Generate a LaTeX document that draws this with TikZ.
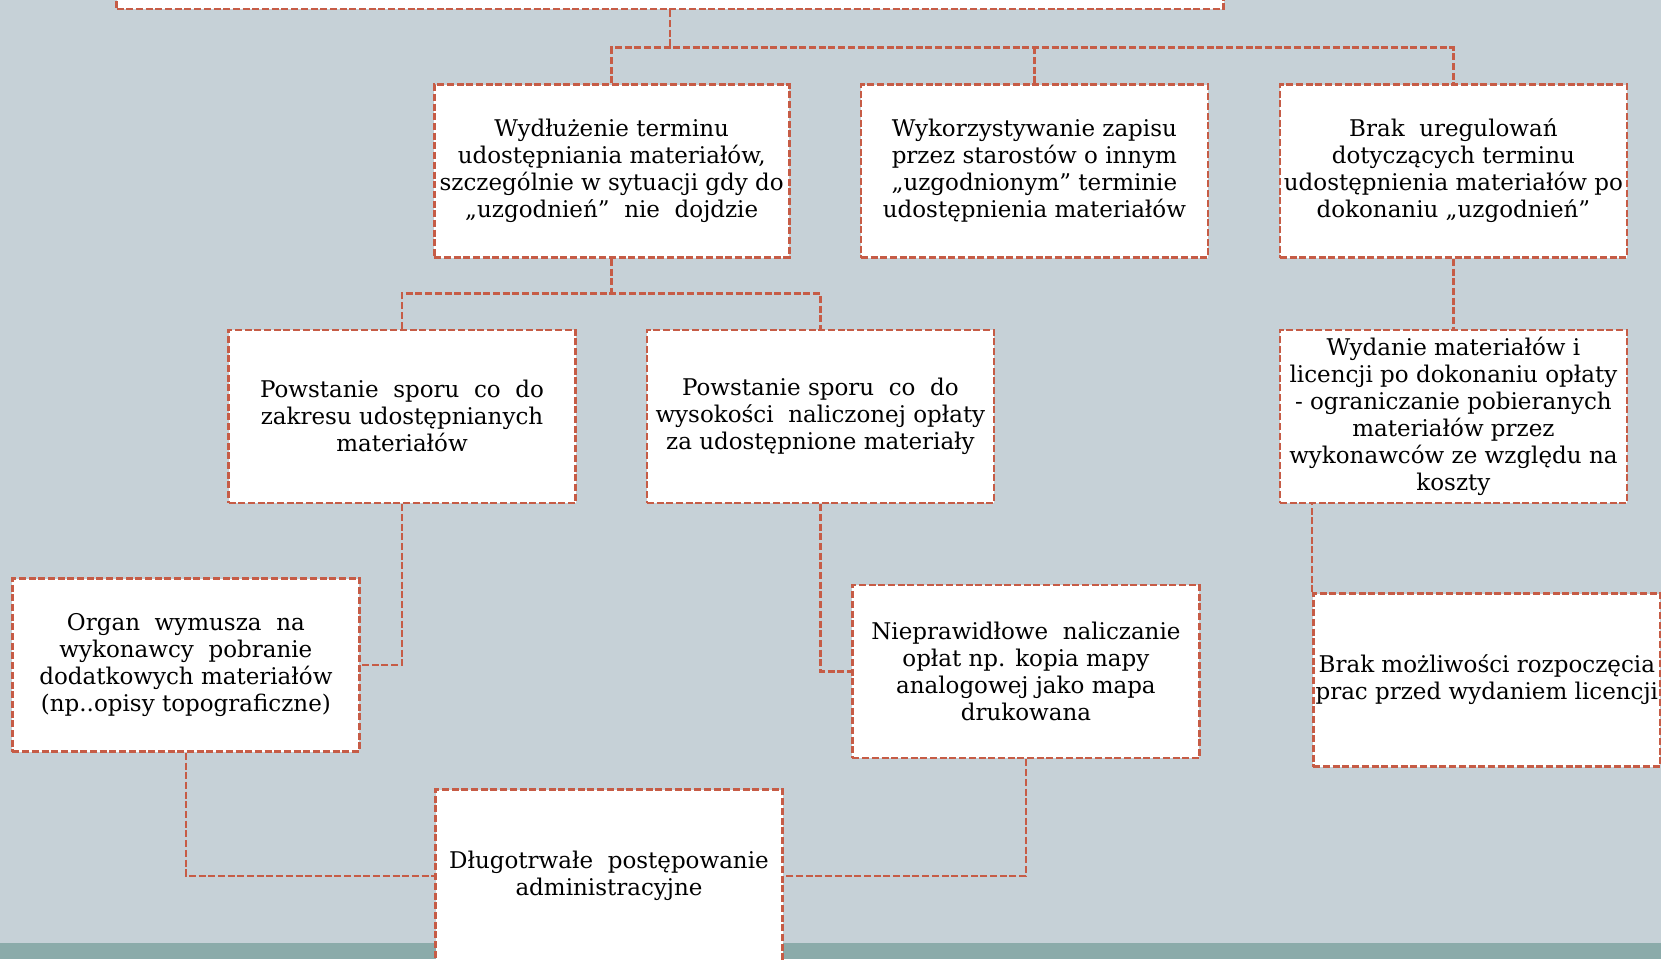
\documentclass[tikz,border=0pt]{standalone}
\usepackage{fontspec}
\setmainfont{DejaVu Serif}
\definecolor{slidebg}{RGB}{198,209,215}
\definecolor{slidebar}{RGB}{139,171,170}
\definecolor{dashred}{RGB}{198,92,70}

\begin{document}
\begin{tikzpicture}[x=1pt, y=-1pt,
  issue/.style={rectangle, draw=dashred, fill=white, line width=2.6pt, dash pattern=on 7pt off 2.7pt,
    minimum width=347pt, minimum height=173pt, inner sep=0pt, align=center,
    font=\fontsize{23}{27}\selectfont},
  link/.style={draw=dashred, line width=2.6pt, dash pattern=on 7pt off 2.7pt}]
  \clip (0,0) rectangle (1661,959);
  \fill[slidebg] (0,0) rectangle (1661,959);
  \fill[slidebar] (0,943) rectangle (1661,959);

  % level 0, cut off by the top edge
  \node[issue, minimum width=1107pt, minimum height=100pt] (top) at (670,-41) {};

  % level 1
  \node[issue, minimum width=355pt] (delay) at (611.7,171) {Wydłużenie terminu\\ udostępniania materiałów,\\ szczególnie w sytuacji gdy do\\ „uzgodnień”~ nie~ dojdzie};
  \node[issue] (otherterm) at (1034.4,171) {Wykorzystywanie zapisu\\ przez starostów o innym\\ „uzgodnionym” terminie\\ udostępnienia materiałów};
  \node[issue] (norules) at (1453.4,171) {Brak~ uregulowań\\ dotyczących terminu\\ udostępnienia materiałów po\\ dokonaniu „uzgodnień”};

  % level 2
  \node[issue] (rangedispute) at (402,416.3) {Powstanie~ sporu~ co~ do\\ zakresu udostępnianych\\ materiałów};
  \node[issue] (feedispute) at (820.4,416.3) {Powstanie sporu~ co~ do\\ wysokości~ naliczonej opłaty\\ za udostępnione materiały};
  \node[issue] (payfirst) at (1453.4,416.3) {Wydanie materiałów i\\ licencji po dokonaniu opłaty\\ - ograniczanie pobieranych\\ materiałów przez\\ wykonawców ze względu na\\ koszty};

  % level 3
  \node[issue] (extradata) at (185.9,665) {Organ~ wymusza~ na\\ wykonawcy~ pobranie\\ dodatkowych materiałów\\ (np..opisy topograficzne)};
  \node[issue] (wrongfee) at (1025.9,671.6) {Nieprawidłowe~ naliczanie\\ opłat np. kopia mapy\\ analogowej jako mapa\\ drukowana};
  \node[issue] (nostart) at (1486.8,680) {Brak możliwości rozpoczęcia\\ prac przed wydaniem licencji};

  % level 4
  \node[issue] (longcase) at (609,876) {Długotrwałe~ postępowanie\\ administracyjne};

  % connectors
  \coordinate (hubA) at (670,47.7);
  \coordinate (hubB) at (611.7,293.4);
  \draw[link] (top.south) -- (hubA);
  \draw[link] (delay.north) |- (hubA) -| (norules.north);
  \draw[link] (otherterm.north) -- (otherterm.north |- hubA);
  \draw[link] (delay.south) -- (hubB);
  \draw[link] (rangedispute.north) |- (hubB) -| (feedispute.north);
  \draw[link] (norules.south) -- (payfirst.north);
  \draw[link] (rangedispute.south) |- (extradata.east);
  \draw[link] (feedispute.south) |- (wrongfee.west);
  \draw[link] (nostart.north west) -- (nostart.north west |- payfirst.south);
  \draw[link] (extradata.south) |- (longcase.west);
  \draw[link] (wrongfee.south) |- (longcase.east);
\end{tikzpicture}
\end{document}
